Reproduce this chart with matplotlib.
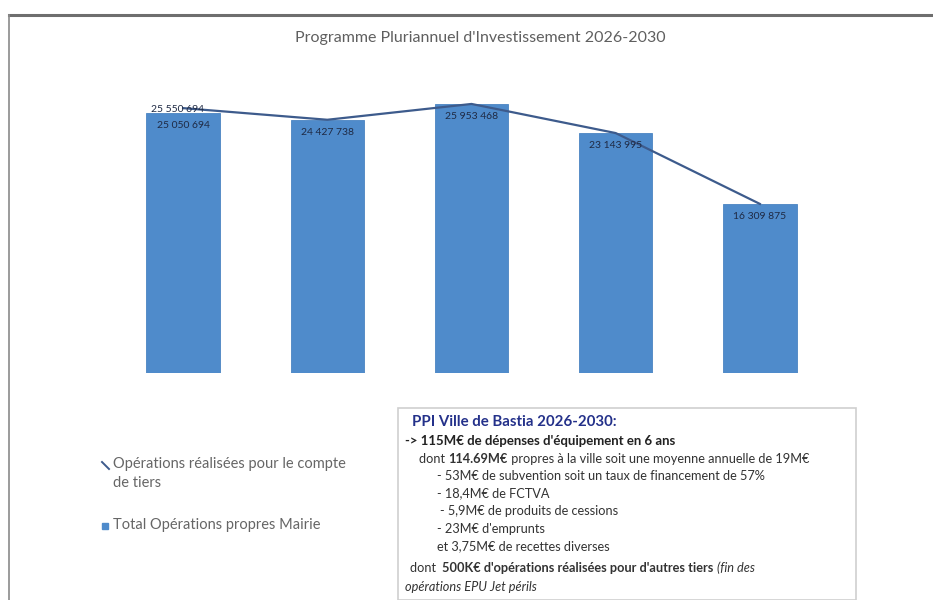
import matplotlib
matplotlib.use("Agg")
import matplotlib.pyplot as plt
from matplotlib.patches import Rectangle
from matplotlib.lines import Line2D

plt.rcParams["font.family"] = ["Lato", "DejaVu Sans"]

# PPI data (euros)
years = ["2026", "2027", "2028", "2029", "2030"]
propres = [25050694, 24427738, 25953468, 23143995, 16309875]
tiers = [500000, 0, 0, 0, 0]
labels_propres = ["25 050 694", "24 427 738", "25 953 468", "23 143 995", "16 309 875"]

title = "Programme Pluriannuel d'Investissement 2026-2030"
legend_line = "Opérations réalisées pour le compte\nde tiers"
legend_bar = "Total Opérations propres Mairie"

W, H = 933, 600
fig = plt.figure(figsize=(W / 100, H / 100), dpi=100)
fig.patch.set_facecolor("white")

def px(x, y):
    # pixel coords (top-left origin) -> figure fraction
    return x / W, 1 - y / H

# page frame
fig.add_artist(Line2D([9 / W, 1], [1 - 15 / H] * 2, color="#6e6e6e", lw=2.2))
fig.add_artist(Line2D([9 / W] * 2, [0, 1 - 15 / H], color="#8a8a8a", lw=1.2))

# chart axes
left, right, top, bottom = 111, 832, 62, 373
ax = fig.add_axes([left / W, 1 - bottom / H, (right - left) / W, (bottom - top) / H])
ax.set_xlim(-0.5, len(years) - 0.5)
ax.set_ylim(0, 30000000)
ax.axis("off")

xs = range(len(years))
ax.bar(xs, propres, width=0.51, color="#4f8bcb", edgecolor="#4a84c2", lw=0.6, zorder=2)
totals = [p + t for p, t in zip(propres, tiers)]
ax.plot(xs, totals, color="#3d5b8c", lw=1.6, zorder=3)

for x, v, lab in zip(xs, propres, labels_propres):
    ax.annotate(lab, (x, v), xytext=(0, -9), textcoords="offset points",
                ha="center", va="center", fontsize=7.5, color="#1f2a44", zorder=4)
# label of the line (only year with tiers operations)
ax.annotate("25 550 694", (0, totals[0]), xytext=(-4, -1), textcoords="offset points",
            ha="center", va="center", fontsize=7.5, color="#1f2a44", zorder=4)

fig.text(*px(480, 38), title, ha="center", va="center", fontsize=11.5, color="#5f5f5f")

# legend
fig.add_artist(Line2D([102 / W, 109 / W], [1 - 462 / H, 1 - 469 / H], color="#3d5b8c", lw=1.4))
fig.text(*px(113, 457), legend_line, ha="left", va="top", fontsize=10.5, color="#666666",
         linespacing=1.45)
fig.add_artist(Rectangle(px(102, 529), 6 / W, 6 / H, color="#4f8bcb"))
fig.text(*px(113, 525), legend_bar, ha="left", va="center", fontsize=10.5, color="#666666")

# info box
fig.add_artist(Rectangle(px(398, 600), 458 / W, 192 / H, fill=False, ec="#cfcfcf", lw=1.2))

renderer = fig.canvas.get_renderer()

def line_of(x, y, parts, size=9.2):
    # parts: list of (text, weight, style, color)
    x0, y0 = px(x, y)
    for txt, weight, style, color in parts:
        t = fig.text(x0, y0, txt, ha="left", va="center", fontsize=size,
                     fontweight=weight, fontstyle=style, color=color)
        bb = t.get_window_extent(renderer)
        x0 += bb.width / W

dark = "#333333"
fig.text(*px(412, 422), "PPI Ville de Bastia 2026-2030:", ha="left", va="center",
         fontsize=10.8, fontweight="bold", color="#24318a")
line_of(405, 441, [("-> 115M€ de dépenses d'équipement en 6 ans", "bold", "normal", "#222222")], size=9.5)
line_of(419, 459, [("dont ", "normal", "normal", dark),
                   ("114.69M€", "bold", "normal", dark),
                   (" propres à la ville soit une moyenne annuelle de 19M€", "normal", "normal", dark)])
line_of(437, 476, [("- 53M€ de subvention soit un taux de financement de 57%", "normal", "normal", dark)])
line_of(437, 493, [("- 18,4M€ de FCTVA", "normal", "normal", dark)])
line_of(440, 511, [("- 5,9M€ de produits de cessions", "normal", "normal", dark)])
line_of(437, 529, [("- 23M€ d'emprunts", "normal", "normal", dark)])
line_of(437, 546, [("et 3,75M€ de recettes diverses", "normal", "normal", dark)])
line_of(410, 568, [("dont  ", "normal", "normal", dark),
                   ("500K€ d'opérations réalisées pour d'autres tiers", "bold", "normal", dark),
                   (" (fin des", "normal", "italic", dark)])
line_of(405, 587, [("opérations EPU Jet périls", "normal", "italic", dark)])

fig.savefig("out.png", dpi=100, facecolor="white")
